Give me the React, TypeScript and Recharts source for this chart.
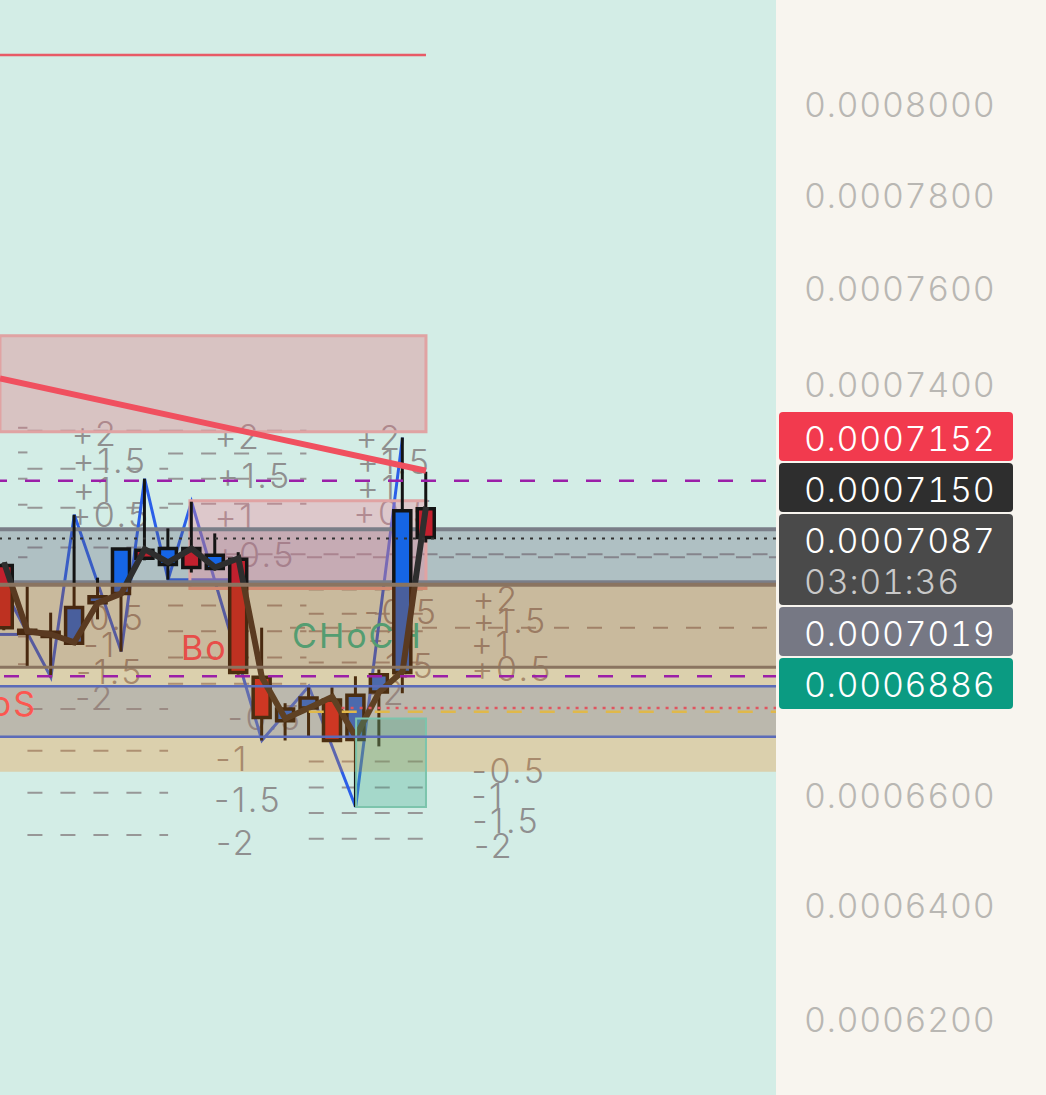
import {
  Bar,
  CartesianGrid,
  Cell,
  ComposedChart,
  Line,
  ReferenceArea,
  ReferenceLine,
  Scatter,
  XAxis,
  YAxis,
} from "recharts";

const candleIndex = [0, 1, 2, 3, 4, 5, 6, 7, 8, 9, 10, 11, 12, 13, 14, 15, 16, 17, 18];
const bodyHigh = [0.0007037, 0.0006911, 0.0006907, 0.0006955, 0.0006976, 0.0007069, 0.0007067, 0.000707, 0.000707, 0.0007057, 0.0007049, 0.0006821, 0.0006761, 0.0006782, 0.0006778, 0.0006787, 0.0006826, 0.0007145, 0.0007149];
const bodyLow = [0.0006916, 0.0006905, 0.0006899, 0.0006886, 0.0006964, 0.0006982, 0.0007051, 0.0007039, 0.0007033, 0.0007031, 0.000683, 0.0006745, 0.0006739, 0.0006763, 0.0006702, 0.0006704, 0.0006793, 0.000683, 0.0007092];
const wickHigh = [0.0007043, 0.0006996, 0.0006945, 0.0007137, 0.0007013, 0.000707, 0.0007209, 0.000711, 0.0007163, 0.00071, 0.0007063, 0.0006916, 0.0006772, 0.0006804, 0.0006802, 0.0006823, 0.0006836, 0.0007292, 0.0007223];
const wickLow = [0.0006911, 0.000684, 0.0006821, 0.0006882, 0.0006932, 0.000687, 0.0007047, 0.0007009, 0.0007023, 0.0007027, 0.0006826, 0.0006702, 0.0006702, 0.0006709, 0.0006702, 0.0006579, 0.0006691, 0.0006791, 0.0007082];
const candleSide = ["down", "down", "down", "up", "up", "up", "down", "up", "down", "up", "down", "down", "up", "up", "down", "up", "up", "up", "down"];
const emaValues = [0.0007043, 0.0006909, 0.0006903, 0.0006888, 0.0006964, 0.0006982, 0.0007069, 0.0007043, 0.000707, 0.0007033, 0.0007051, 0.0006821, 0.0006743, 0.0006763, 0.0006784, 0.0006709, 0.0006793, 0.0006832, 0.0007153];

const zigzagIndex = [0, 2, 3, 5, 6, 7, 8, 11, 13, 15, 17];
const zigzagValues = [0.0006991, 0.0006821, 0.0007137, 0.000687, 0.0007209, 0.0007009, 0.0007163, 0.0006702, 0.0006804, 0.0006579, 0.0007292];

const priceTicks = [0.0008, 0.00078, 0.00076, 0.00074, 0.00066, 0.00064, 0.00062];
const priceDomain = [0.00060718, 0.00082374];
const indexDomain = [-0.17, 32.93];

const fibText = ["+2", "+1.5", "+1", "+0.5", "-0.5", "-1", "-1.5", "-2"];
const fibSetA = {
  x: [3.88, 4.52, 3.8, 4.52, 4.44, 4.1, 4.52, 3.88],
  y: [0.00073, 0.0007246, 0.0007187, 0.0007137, 0.0006936, 0.0006884, 0.0006832, 0.0006783],
};
const fibSetB = {
  x: [9.98, 10.67, 9.85, 10.71, 11.13, 9.73, 10.41, 9.9],
  y: [0.0007294, 0.0007215, 0.0007134, 0.0007059, 0.0006746, 0.0006668, 0.0006592, 0.0006514],
};
const fibSetC = {
  x: [16.0, 16.64, 15.91, 16.64, 16.94, 16.25, 16.94, 16.3],
  y: [0.0007292, 0.0007244, 0.0007191, 0.0007141, 0.0006947, 0.0006893, 0.0006843, 0.0006793],
};
const fibSetD = {
  x: [20.99, 21.59, 20.78, 21.67, 21.54, 20.65, 21.42, 20.9],
  y: [0.0006973, 0.000693, 0.0006886, 0.0006838, 0.0006646, 0.0006601, 0.0006554, 0.0006509],
};

const dashGroups = [
  { from: 1, to: 7, levels: [0.0007306, 0.0007229, 0.0007151, 0.0007072, 0.0006761, 0.0006683, 0.0006605, 0.0006528] },
  { from: 0.6, to: 1, levels: [0.0007312, 0.0007262, 0.0007209, 0.0007157, 0.0007053, 0.0006899, 0.0006846] },
  { from: 7, to: 12.9, levels: [0.0007306, 0.000726, 0.0007209, 0.0007159, 0.0006959, 0.0006909, 0.0006859, 0.0006809] },
  { from: 13, to: 18, levels: [0.000699, 0.0006943, 0.0006909, 0.0006849, 0.0006663, 0.0006615, 0.0006568, 0.0006521] },
  { from: 8, to: 32.93, levels: [0.0007059] },
  { from: 8.7, to: 32.93, levels: [0.0007053] },
  { from: 12.2, to: 32.93, levels: [0.0006916] },
];

const tagPrices = ["0.0007152", "0.0007150", "0.0007087", "0.0007019", "0.0006886"];
const tagColors = ["#f23a4e", "#2e2e2e", "#4a4a4a", "#767884", "#0b9b82"];
const tagTops = [412, 463, 514, 607, 658];
const tagHeights = [49, 49, 91, 49, 51];
const countdown = "03:01:36";

const candleTable = candleIndex.map((i) => ({
  i,
  body: [bodyLow[i], bodyHigh[i]],
  wick: [wickLow[i], wickHigh[i]],
  ema: emaValues[i],
}));

const zigzagTable = zigzagIndex.map((i, n) => ({ i, zigzag: zigzagValues[n] }));

const fibTable = [fibSetA, fibSetB, fibSetC, fibSetD].flatMap((set) =>
  fibText.map((text, n) => ({ i: set.x[n], price: set.y[n], text }))
);

// colours are brighter than they look, the tan zone is drawn over them
const chartText = [
  { i: 7.55, price: 0.0006878, text: "BoS", color: "#ff4b6a", anchor: "start" },
  { i: 1.41, price: 0.0006772, text: "BoS", color: "#ff4b6a", anchor: "end" },
  { i: 12.29, price: 0.0006901, text: "CHoCH", color: "#24c0a5", anchor: "start" },
];

const FONT = "Inter, 'Noto Sans', sans-serif";
// draw order, the picture has the tan zones over the candles and the boxes under them
const TEXT_Z = 100;
const ZIGZAG_Z = 150;
const BOX_Z = 200;
const LABEL_Z = 250;
const TAN_Z = 700;
const TOP_Z = 800;

const FibLabel = (props: any) => (
  <text
    x={props.cx}
    y={props.cy}
    textAnchor="middle"
    dominantBaseline="central"
    fontFamily={FONT}
    fontSize={34}
    fontWeight={300}
    letterSpacing={2.5}
    fill="#8f8f8f"
  >
    {props.payload.text}
  </text>
);

const ChartLabel = (props: any) => (
  <text
    x={props.cx}
    y={props.cy}
    textAnchor={props.payload.anchor}
    dominantBaseline="central"
    fontFamily={FONT}
    fontSize={34}
    letterSpacing={2}
    fill={props.payload.color}
  >
    {props.payload.text}
  </text>
);

export default function App() {
  return (
    <div
      style={{
        position: "absolute",
        left: 0,
        top: 0,
        width: 1046,
        height: 1095,
        background: "#f8f5ef",
        overflow: "hidden",
      }}
    >
      <ComposedChart
        width={1046}
        height={1095}
        data={candleTable}
        margin={{ top: 0, right: 0, bottom: 0, left: 0 }}
      >
        <CartesianGrid fill="#d3ede6" horizontal={false} vertical={false} />
        <XAxis xAxisId={0} dataKey="i" type="number" domain={indexDomain} hide allowDataOverflow />
        <XAxis xAxisId="wicks" dataKey="i" type="number" domain={indexDomain} hide allowDataOverflow />
        <XAxis xAxisId="bodies" dataKey="i" type="number" domain={indexDomain} hide allowDataOverflow />
        <YAxis
          orientation="right"
          width={270}
          scale="log"
          domain={priceDomain}
          ticks={priceTicks}
          interval={0}
          allowDataOverflow
          axisLine={false}
          tickLine={false}
          tickSize={0}
          tickMargin={28}
          tick={{
            fill: "#b9b7b3",
            fontSize: 34,
            fontFamily: FONT,
            fontWeight: 300,
            letterSpacing: 0.7,
            style: { fontVariantNumeric: "tabular-nums" },
          }}
          tickFormatter={(v: number) => v.toFixed(7)}
        />

        {dashGroups.flatMap((g, n) =>
          g.levels.map((level) => (
            <ReferenceLine
              key={`dash-${n}-${level}`}
              zIndex={TEXT_Z}
              segment={[
                { x: g.from, y: level },
                { x: g.to, y: level },
              ]}
              stroke="#979797"
              strokeWidth={2}
              strokeDasharray="15 18"
            />
          ))
        )}
        <Scatter zIndex={TEXT_Z} data={fibTable} dataKey="price" shape={FibLabel} isAnimationActive={false} />

        <Line
          zIndex={ZIGZAG_Z}
          data={zigzagTable}
          dataKey="zigzag"
          stroke="#2a5fe8"
          strokeWidth={3}
          dot={false}
          activeDot={false}
          connectNulls
          isAnimationActive={false}
        />
        <ReferenceLine
          zIndex={ZIGZAG_Z}
          segment={[
            { x: 7, y: 0.0007009 },
            { x: 9.64, y: 0.0007009 },
          ]}
          stroke="#2a5fe8"
          strokeWidth={3}
        />
        <ReferenceLine
          zIndex={ZIGZAG_Z}
          segment={[
            { x: -0.17, y: 0.0006903 },
            { x: 0.6, y: 0.0006903 },
          ]}
          stroke="#2a5fe8"
          strokeWidth={3}
        />
        <Bar xAxisId="wicks" dataKey="wick" barSize={3} fill="#141414" isAnimationActive={false} />
        <Bar xAxisId="bodies" dataKey="body" barSize={17} stroke="#141414" strokeWidth={3.5} isAnimationActive={false}>
          {candleIndex.map((i) => (
            <Cell key={i} fill={candleSide[i] === "up" ? "#1565e6" : "#c2202e"} />
          ))}
        </Bar>
        <Line dataKey="ema" stroke="#2e2e2e" strokeWidth={6} dot={false} activeDot={false} isAnimationActive={false} />

        <ReferenceLine
          segment={[
            { x: -0.17, y: 0.0008112 },
            { x: 18, y: 0.0008112 },
          ]}
          stroke="#e85a66"
          strokeWidth={2.5}
        />
        <ReferenceArea zIndex={BOX_Z} x1={-0.17} x2={32.93} y1={0.0007005} y2={0.0007108} fill="#5d5a75" fillOpacity={0.3} />
        <ReferenceArea zIndex={BOX_Z} x1={-0.17} x2={18} y1={0.0007304} y2={0.0007502} fill="#df7e88" fillOpacity={0.38} stroke="#e0a3a3" strokeWidth={3} />
        <ReferenceArea zIndex={BOX_Z} x1={7.93} x2={18} y1={0.0006992} y2={0.0007165} fill="#f08498" fillOpacity={0.35} stroke="#e0a3a3" strokeWidth={3} />
        <ReferenceArea zIndex={BOX_Z} x1={-0.17} x2={32.93} y1={0.0006709} y2={0.0006804} fill="#4782e9" fillOpacity={0.3} />
        <Scatter zIndex={LABEL_Z} data={chartText} dataKey="price" shape={ChartLabel} isAnimationActive={false} />

        <ReferenceArea zIndex={TAN_Z} x1={-0.17} x2={32.93} y1={0.0006644} y2={0.0007001} fill="#f37d02" fillOpacity={0.25} />
        <ReferenceArea zIndex={TAN_Z} x1={-0.17} x2={32.93} y1={0.000684} y2={0.0006999} fill="#320014" fillOpacity={0.1} />
        <ReferenceArea zIndex={TAN_Z} x1={15.02} x2={18} y1={0.0006579} y2={0.0006743} fill="#3caa8c" fillOpacity={0.3} stroke="#7cc4ac" strokeWidth={2} />

        <ReferenceLine
          zIndex={TOP_Z}
          segment={[
            { x: -0.17, y: 0.0007413 },
            { x: 18, y: 0.0007225 },
          ]}
          stroke="#f0505f"
          strokeWidth={6}
        />
        <ReferenceLine zIndex={BOX_Z} y={0.0007108} stroke="#7a7e88" strokeWidth={4} />
        <ReferenceLine zIndex={BOX_Z} y={0.0007005} stroke="#7a7e88" strokeWidth={3} />
        <ReferenceLine zIndex={TOP_Z} y={0.000709} stroke="#333" strokeWidth={2} strokeDasharray="3 6" />
        <ReferenceLine zIndex={TOP_Z} y={0.0006999} stroke="#8a7460" strokeWidth={4} />
        <ReferenceLine zIndex={TOP_Z} y={0.000684} stroke="#8a7460" strokeWidth={3} />
        <ReferenceLine zIndex={TOP_Z} y={0.0006804} stroke="#5b6bb8" strokeWidth={2.5} />
        <ReferenceLine zIndex={TOP_Z} y={0.0006709} stroke="#5b6bb8" strokeWidth={2.5} />
        <ReferenceLine zIndex={TOP_Z} y={0.0007205} stroke="#9b1fa8" strokeWidth={2.5} strokeDasharray="15 18" strokeDashoffset={23} />
        <ReferenceLine zIndex={TOP_Z} y={0.0006823} stroke="#9b1fa8" strokeWidth={2.5} strokeDasharray="15 18" strokeDashoffset={35} />
        <ReferenceLine
          zIndex={TOP_Z}
          segment={[
            { x: 14.4, y: 0.0006763 },
            { x: 32.93, y: 0.0006763 },
          ]}
          stroke="#e0555f"
          strokeWidth={2.5}
          strokeDasharray="3 6"
        />
        <ReferenceLine
          zIndex={TOP_Z}
          segment={[
            { x: 13, y: 0.0006756 },
            { x: 32.93, y: 0.0006756 },
          ]}
          stroke="#e0b84a"
          strokeWidth={2.5}
          strokeDasharray="15 18"
        />
      </ComposedChart>

      {tagPrices.map((price, n) => (
        <div
          key={price}
          style={{
            position: "absolute",
            left: 779,
            top: tagTops[n],
            width: 234,
            height: tagHeights[n],
            paddingLeft: 25,
            boxSizing: "border-box",
            background: tagColors[n],
            borderRadius: 4,
            color: "#fff",
            fontFamily: FONT,
            fontSize: 34,
            fontWeight: 300,
            fontVariantNumeric: "tabular-nums",
            letterSpacing: 0.7,
            lineHeight: "53px",
          }}
        >
          {price}
          {n === 2 && <div style={{ color: "#c9c9c9", lineHeight: "30px" }}>{countdown}</div>}
        </div>
      ))}
    </div>
  );
}
